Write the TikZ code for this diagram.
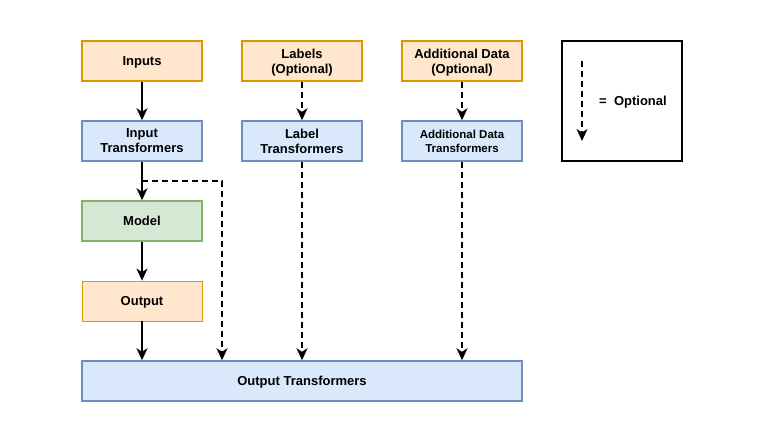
\documentclass[tikz,border=0pt]{standalone}
\usepackage{fontspec}
\setmainfont{Liberation Sans}
\usetikzlibrary{arrows.meta}

\definecolor{orangefill}{HTML}{FFE6CC}
\definecolor{orangeline}{HTML}{D79B00}
\definecolor{bluefill}{HTML}{DAE8FC}
\definecolor{blueline}{HTML}{6C8EBF}
\definecolor{greenfill}{HTML}{D5E8D4}
\definecolor{greenline}{HTML}{82B366}

\tikzset{
  box/.style={draw, line width=1.5pt, minimum width=120pt, minimum height=40pt,
    inner sep=0pt, align=center, text depth=0pt, font=\fontsize{13}{15}\selectfont\bfseries},
  datbox/.style={box, fill=orangefill, draw=orangeline},
  trbox/.style={box, fill=bluefill, draw=blueline},
  modelbox/.style={box, fill=greenfill, draw=greenline},
  flow/.style={->, line width=1.5pt},
  optflow/.style={flow, dash pattern=on 6pt off 4pt},
}

\begin{document}
\begin{tikzpicture}[x=1pt, y=-1pt, line cap=butt, line join=miter,
    >={Stealth[length=12pt, width=11pt, inset=3.5pt]}]
  \useasboundingbox (0,0) rectangle (762,442);

  % Top row: data sources
  \node[datbox] (inputs) at (142,61) {Inputs};
  \node[datbox] (labels) at (302,61) {Labels\\(Optional)};
  \node[datbox] (extra) at (462,61) {Additional Data\\(Optional)};

  % Second row: transformers
  \node[trbox] (intrans) at (142,141) {Input\\Transformers};
  \node[trbox] (labtrans) at (302,141) {Label\\Transformers};
  \node[trbox, font=\fontsize{11.5}{14}\selectfont\bfseries] (extratrans) at (462,141) {Additional Data\\Transformers};

  % Model and its output
  \node[modelbox] (model) at (142,221) {Model};
  \node[datbox, line width=0.75pt] (output) at (142,301) {Output};

  % Bottom: output transformers
  \node[trbox, minimum width=440pt] (outtrans) at (302,381) {Output Transformers};

  % Legend
  \node[draw, line width=1.5pt, minimum width=120pt, minimum height=120pt] (legend) at (622,101) {};
  \coordinate (legtop) at (582,61);
  \coordinate (legbot) at (582,141);
  \draw[optflow] (legtop) -- (legbot);
  \node[font=\fontsize{13}{15}\selectfont\bfseries, text depth=0pt] (legtext) at (633,101) {=\ \ Optional};

  % Main chain
  \draw[flow] (inputs) -- (intrans);
  \draw[flow] (intrans) -- (model);
  \draw[flow] (model) -- (output);
  \draw[flow] (output) -- (outtrans.north -| output);

  % Optional paths
  \draw[optflow] (labels) -- (labtrans);
  \draw[optflow] (extra) -- (extratrans);
  \draw[optflow] (labtrans) -- (outtrans.north -| labtrans);
  \draw[optflow] (extratrans) -- (outtrans.north -| extratrans);

  % Skip from input transformers past the model
  \coordinate (split) at (142,181);
  \coordinate (bend) at (222,181);
  \draw[optflow] (split) -- (bend) -- (outtrans.north -| bend);
\end{tikzpicture}
\end{document}
